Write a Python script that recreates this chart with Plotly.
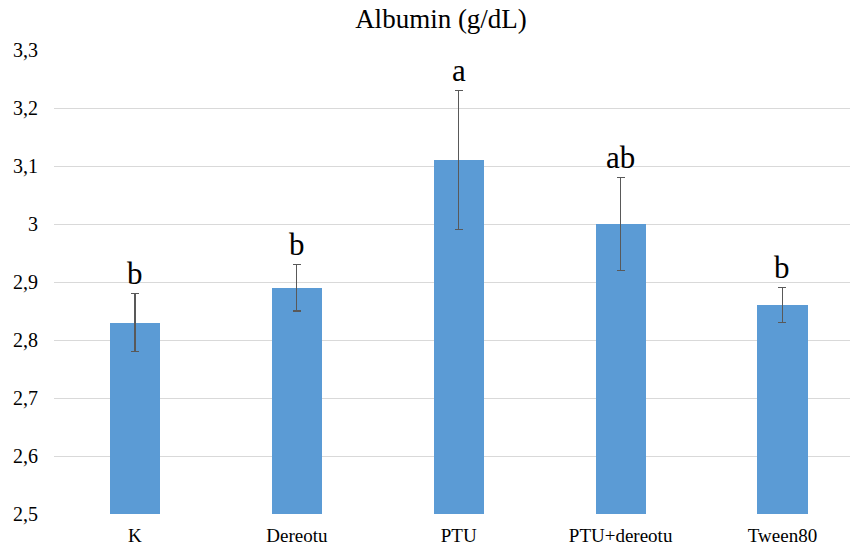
import plotly.graph_objects as go

categories = ["K", "Dereotu", "PTU", "PTU+dereotu", "Tween80"]
means = [2.83, 2.89, 3.11, 3.00, 2.86]
errors = [0.05, 0.04, 0.12, 0.08, 0.03]
letters = ["b", "b", "a", "ab", "b"]
y_ticks = [2.5, 2.6, 2.7, 2.8, 2.9, 3.0, 3.1, 3.2, 3.3]
y_tick_labels = ["2,5", "2,6", "2,7", "2,8", "2,9", "3", "3,1", "3,2", "3,3"]

FONT = "Liberation Serif, Times New Roman, serif"

fig = go.Figure()
fig.add_trace(go.Bar(
    x=categories, y=means,
    width=0.31,
    marker=dict(color="#5B9BD5", line=dict(width=0)),
    error_y=dict(type="data", array=errors, visible=True,
                 color="#595959", thickness=1.2, width=4),
    showlegend=False,
))

for c, m, e, t in zip(categories, means, errors, letters):
    fig.add_annotation(x=c, y=m + e, text=t, showarrow=False,
                       yanchor="bottom", yshift=1,
                       font=dict(family=FONT, size=31, color="#000000"))

fig.update_layout(
    width=850, height=556,
    margin=dict(l=54, r=0, t=50, b=42),
    paper_bgcolor="white", plot_bgcolor="white",
    title=dict(text="Albumin (g/dL)", x=441/850, xanchor="center",
               y=1 - 19/556, yanchor="middle", yref="container",
               font=dict(family=FONT, size=27, color="#000000")),
    font=dict(family=FONT, color="#000000"),
    xaxis=dict(range=[-0.5, 4.417], showgrid=False, showline=False,
               ticks="", ticklabelstandoff=8,
               tickfont=dict(family=FONT, size=19, color="#000000")),
    yaxis=dict(range=[2.5, 3.3], tickvals=y_ticks, ticktext=y_tick_labels,
               showgrid=True, gridcolor="#d9d9d9", gridwidth=1,
               zeroline=False, showline=False, ticks="",
               ticklabelstandoff=15,
               tickfont=dict(family=FONT, size=20, color="#000000")),
    bargap=0,
)

fig.write_html("out.html")
